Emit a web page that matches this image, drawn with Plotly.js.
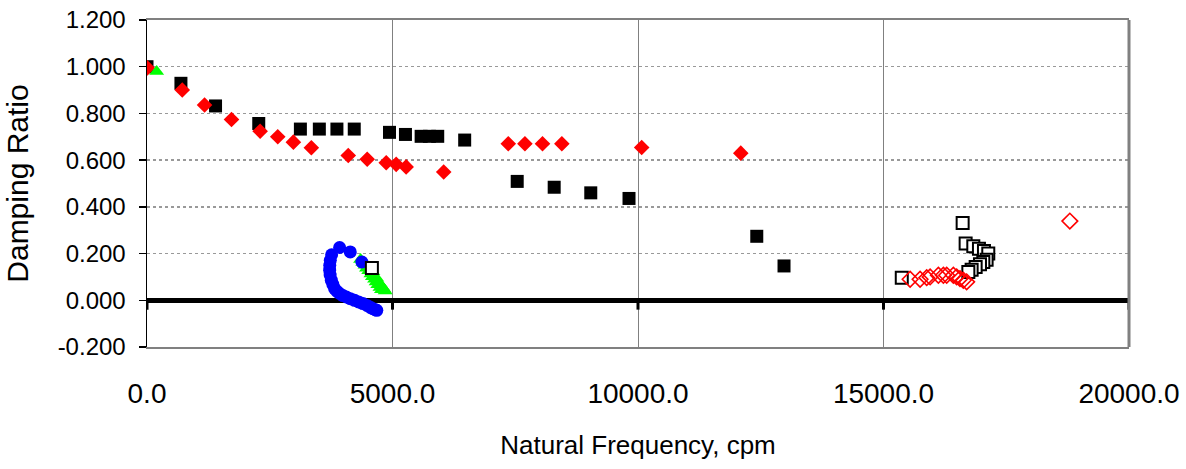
<!DOCTYPE html>
<html>
<head>
<meta charset="utf-8">
<script src="https://cdn.plot.ly/plotly-3.0.1.min.js"></script>
<style>html,body{margin:0;padding:0;background:#fff;}#chart{width:1186px;height:469px;}</style>
</head>
<body>
<div id="chart"></div>
<script>
// Axis ticks
var xTicks = [0, 5000, 10000, 15000, 20000];
var yTicks = [-0.2, 0, 0.2, 0.4, 0.6, 0.8, 1.0, 1.2];
var yTickLabels = ['-0.200', '0.000', '0.200', '0.400', '0.600', '0.800', '1.000', '1.200'];

// Filled black squares
var blackSqX = [0, 691, 1396, 2276, 3124, 3510, 3868, 4221, 4939, 5264, 5583, 5752, 5921, 6470, 7540, 8293, 9038, 9817, 12419, 12974];
var blackSqY = [1.000, 0.929, 0.832, 0.757, 0.733, 0.733, 0.733, 0.733, 0.719, 0.710, 0.702, 0.702, 0.702, 0.686, 0.509, 0.484, 0.460, 0.436, 0.274, 0.147];

// Filled red diamonds
var redDiaX = [6, 718, 1172, 1721, 2304, 2663, 2981, 3347, 4099, 4485, 4872, 5075, 5278, 6043, 7358, 7697, 8055, 8449, 10075, 12093];
var redDiaY = [0.995, 0.900, 0.836, 0.774, 0.724, 0.700, 0.677, 0.653, 0.620, 0.604, 0.589, 0.582, 0.571, 0.549, 0.670, 0.670, 0.670, 0.670, 0.654, 0.630];

// Green triangles
var greenTriX = [197, 4350, 4395, 4440, 4470, 4515, 4560, 4600, 4590, 4635, 4680, 4665, 4700, 4750, 4745, 4790, 4775, 4830, 4850];
var greenTriY = [0.979, 0.175, 0.162, 0.150, 0.137, 0.126, 0.113, 0.122, 0.101, 0.090, 0.094, 0.078, 0.066, 0.070, 0.055, 0.058, 0.045, 0.047, 0.040];

// Blue circles
var blueCircX = [3923, 4140, 4376, 3760, 3733, 3722, 3720, 3730, 3754, 3785, 3821, 3870, 3923, 3990, 4059, 4140, 4228, 4310, 4398, 4480, 4550, 4600, 4650, 4680];
var blueCircY = [0.226, 0.207, 0.164, 0.195, 0.171, 0.150, 0.129, 0.108, 0.086, 0.068, 0.050, 0.038, 0.029, 0.020, 0.014, 0.007, 0.000, -0.007, -0.014, -0.022, -0.030, -0.036, -0.040, -0.043];

// Open black squares
var openSqX = [4580, 15372, 16612, 16673, 16829, 16944, 17046, 17134, 17100, 17033, 16965, 16877, 16795, 16728];
var openSqY = [0.138, 0.097, 0.331, 0.243, 0.231, 0.221, 0.211, 0.200, 0.174, 0.164, 0.154, 0.143, 0.131, 0.121];

// Open red diamonds
var openDiaX = [15542, 15745, 15880, 15949, 16118, 16220, 16287, 16423, 16490, 16558, 16626, 16693, 18795];
var openDiaY = [0.090, 0.090, 0.097, 0.100, 0.107, 0.107, 0.107, 0.107, 0.100, 0.093, 0.086, 0.079, 0.339];

var traces = [
  {x: blackSqX, y: blackSqY, mode: 'markers', type: 'scatter',
   marker: {symbol: 'square', size: 13, color: '#000000'}},
  {x: redDiaX, y: redDiaY, mode: 'markers', type: 'scatter',
   marker: {symbol: 'diamond', size: 12, color: '#FF0000'}},
  {x: greenTriX, y: greenTriY, mode: 'markers', type: 'scatter',
   marker: {symbol: 'triangle-up', size: 13, color: '#00FF00'}},
  {x: blueCircX, y: blueCircY, mode: 'markers', type: 'scatter',
   marker: {symbol: 'circle', size: 13, color: '#0000FF'}},
  {x: openSqX, y: openSqY, mode: 'markers', type: 'scatter',
   marker: {symbol: 'square', size: 12, color: '#FFFFFF', line: {color: '#000000', width: 2}}},
  {x: openDiaX, y: openDiaY, mode: 'markers', type: 'scatter',
   marker: {symbol: 'diamond-open', size: 12, color: '#FF0000', line: {width: 1.6}}}
];

var tickShapes = xTicks.map(function (v) {
  return {type: 'line', xref: 'x', yref: 'y', x0: v, x1: v, y0: 0, y1: -0.04,
          line: {color: '#000000', width: 3}};
});
tickShapes.push({type: 'line', xref: 'paper', yref: 'paper', x0: 1, x1: 1, y0: 0, y1: 1,
                 line: {color: '#808080', width: 3}});

var font = 'Liberation Sans, Arial, sans-serif';

var layout = {
  width: 1186, height: 469,
  margin: {l: 147, r: 57, t: 20, b: 122},
  paper_bgcolor: '#ffffff', plot_bgcolor: '#ffffff',
  showlegend: false,
  font: {family: font, color: '#000000'},
  xaxis: {
    range: [0, 20000], tickvals: xTicks, tickformat: '.1f',
    showgrid: true, gridcolor: '#808080', gridwidth: 1,
    zeroline: false, showline: true, linecolor: '#808080', linewidth: 2, mirror: true,
    ticks: '', ticklabelstandoff: 20,
    tickfont: {size: 28, family: font},
    title: {text: 'Natural Frequency, cpm', font: {size: 26, family: font}, standoff: 28}
  },
  yaxis: {
    range: [-0.2, 1.2], tickvals: yTicks, ticktext: yTickLabels,
    showgrid: true, gridcolor: '#999999', gridwidth: 1.5, griddash: 'dot',
    zeroline: true, zerolinecolor: '#000000', zerolinewidth: 5,
    showline: true, linecolor: '#000000', linewidth: 1.5,
    ticks: 'outside', ticklen: 7, tickcolor: '#000000', tickwidth: 1.5,
    ticklabelstandoff: 8,
    tickfont: {size: 24, family: font},
    title: {text: 'Damping Ratio', font: {size: 30, family: font}, standoff: 20}
  },
  shapes: tickShapes
};

Plotly.newPlot('chart', traces, layout, {staticPlot: true, displayModeBar: false});
</script>
</body>
</html>
